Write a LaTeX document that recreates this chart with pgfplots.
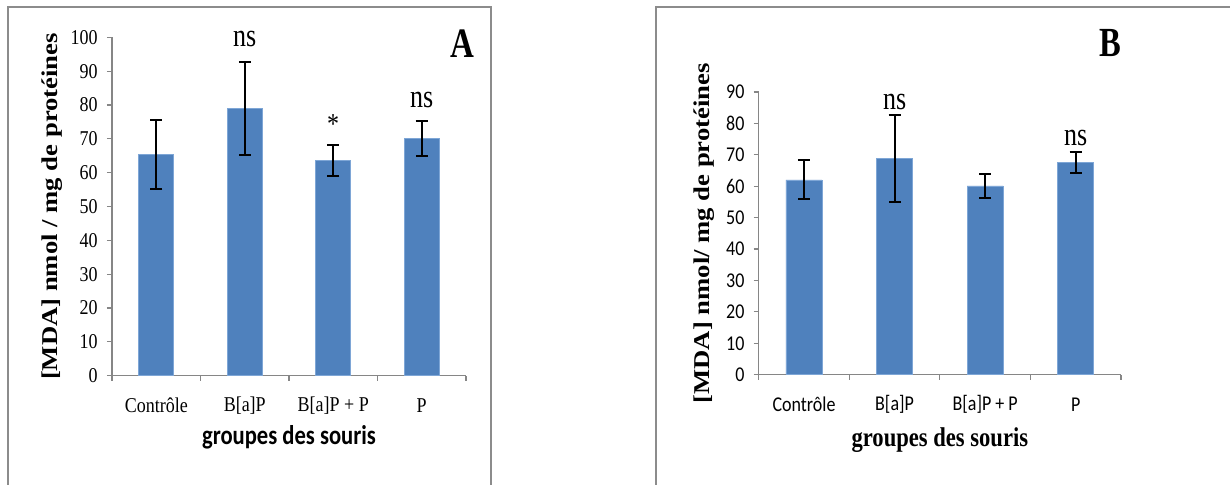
\documentclass[border=0pt]{standalone}
\usepackage{fontspec}
\setmainfont{Liberation Serif}
\newfontfamily\carlito{Carlito}
\usepackage{graphicx}
\usepackage{pgfplots}
\usepackage{pgfplotstable}
\pgfplotsset{compat=1.18}
\definecolor{barblue}{HTML}{4F81BD}
\definecolor{baredge}{HTML}{7EA6D6}
\definecolor{axgray}{HTML}{868686}
\definecolor{framegray}{HTML}{8C8C8C}

\pgfplotstableread{
x y err
0 65.4 10.1
1 78.9 13.8
2 63.6 4.7
3 70.0 5.2
}\dataA
\pgfplotstableread{
x y err
0 62.0 6.2
1 68.9 13.8
2 60.1 3.8
3 67.6 3.3
}\dataB

\pgfplotsset{
 mdastyle/.style={
  scale only axis,
  anchor=south west,
  axis x line*=bottom, axis y line*=left,
  axis line style={axgray, line width=0.6pt},
  xmin=-0.5, xmax=3.5, ymin=0,
  xtick={-0.5,0.5,1.5,2.5,3.5},
  x tick label as interval,
  xticklabels={Contr\^ole,{B[a]P},{B[a]P + P},P},
  tick align=outside,
  tick style={axgray, line width=0.6pt},
  major tick length=2.6pt,
  /pgf/number format/assume math mode=true,
  clip=false,
  xticklabel style={anchor=center, yshift=-10.5pt},
  yticklabel style={anchor=east, xshift=-1pt},
 },
 mdabar/.style={
  ybar, bar width=#1, fill=barblue, draw=baredge, line width=0.4pt,
  error bars/.cd, y dir=both, y explicit,
  error mark=-,
  error bar style={black, line width=1pt},
  error mark options={black, line width=1pt, mark size=3pt, rotate=90},
 },
}

\begin{document}
\begin{tikzpicture}
\path[use as bounding box] (0,0) rectangle (615pt,242pt);
% panel frames
\draw[framegray, line width=1pt] (4pt,-10pt) -- (4pt,238.5pt) -- (245.5pt,238.5pt) -- (245.5pt,-10pt);
\draw[framegray, line width=1pt] (328pt,-10pt) -- (328pt,238.5pt) -- (630pt,238.5pt);

% Panel A
\begin{axis}[mdastyle,
  at={(56pt,54.15pt)},
  width=177pt, height=169.2pt,
  ymax=100, ytick={0,10,...,100},
  ticklabel style={font=\fontsize{9}{11}\selectfont, yscale=1.17},
  ylabel={\scalebox{1.18}[1]{[MDA] nmol / mg de prot\'eines}},
  ylabel style={at={(axis description cs:-0.17,0.5)}, anchor=center, font=\bfseries\fontsize{11.3}{13}\selectfont},
  xlabel={groupes des souris},
  xlabel style={at={(axis description cs:0.5,-0.183)}, anchor=center, yscale=1.2, font=\carlito\bfseries\fontsize{11.3}{13}\selectfont},
]
\addplot[mdabar=17.5pt] table[x=x, y=y, y error=err] {\dataA};
\node[inner sep=0pt, yscale=1.25, font=\fontsize{13}{15}\selectfont] at (axis cs:1,99.5) {ns};
\node[inner sep=0pt, yscale=1.25, font=\fontsize{13}{15}\selectfont] at (axis cs:3,81.5) {ns};
\node[inner sep=0pt, yscale=1.2, font=\fontsize{12}{14}\selectfont] at (axis cs:2,74.5) {*};
\node[inner sep=0pt, yscale=1.27, font=\bfseries\fontsize{16.5}{19}\selectfont] at (axis description cs:0.989,0.98) {A};
\end{axis}

% Panel B
\begin{axis}[mdastyle,
  at={(379.35pt,54.65pt)},
  width=181.15pt, height=141.35pt,
  ymax=90, ytick={0,10,...,90},
  ticklabel style={font=\carlito\fontsize{9}{11}\selectfont, yscale=1.17},
  ylabel={\scalebox{1.18}[1]{[MDA] nmol/ mg de prot\'eines}},
  ylabel style={at={(axis description cs:-0.151,0.5)}, anchor=center, font=\bfseries\fontsize{11.3}{13}\selectfont},
  xlabel={groupes des souris},
  xlabel style={at={(axis description cs:0.5,-0.23)}, anchor=center, yscale=1.2, font=\bfseries\fontsize{11.3}{13}\selectfont},
]
\addplot[mdabar=18pt] table[x=x, y=y, y error=err] {\dataB};
\node[inner sep=0pt, yscale=1.25, font=\fontsize{13}{15}\selectfont] at (axis cs:1,86.9) {ns};
\node[inner sep=0pt, yscale=1.25, font=\fontsize{13}{15}\selectfont] at (axis cs:3,75.5) {ns};
\node[inner sep=0pt, yscale=1.27, font=\bfseries\fontsize{16.3}{19}\selectfont] at (axis description cs:0.97,1.173) {B};
\end{axis}
\end{tikzpicture}
\end{document}
